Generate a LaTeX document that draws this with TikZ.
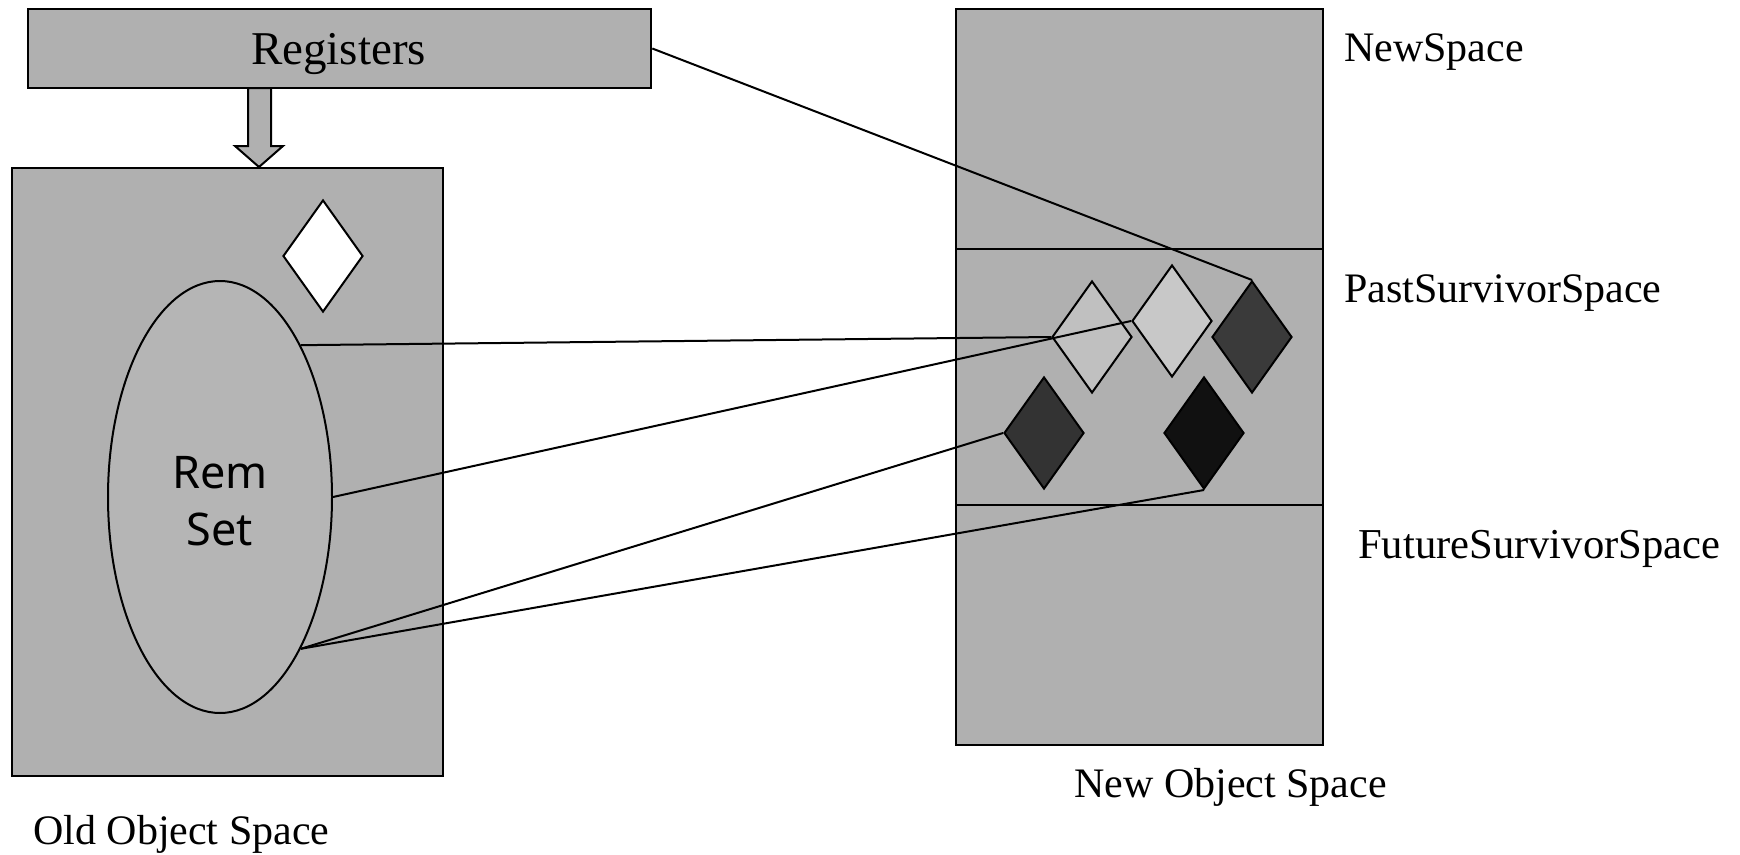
\documentclass[tikz,border=0pt]{standalone}
\usepackage{fontspec}
\setmainfont{Liberation Serif}
\newfontfamily\remfont{Noto Sans}
\usetikzlibrary{shapes.geometric}
\definecolor{bgray}{RGB}{176,176,176}
\definecolor{egray}{RGB}{181,181,181}
\definecolor{dlight}{RGB}{192,192,192}
\definecolor{dlighter}{RGB}{200,200,200}
\definecolor{ddark}{RGB}{58,58,58}
\definecolor{ddarker}{RGB}{51,51,51}
\definecolor{dblack}{RGB}{17,17,17}
\tikzset{
  boxsty/.style={draw, line width=2.6pt, fill=bgray, inner sep=0pt, rectangle},
  link/.style={line width=2pt},
  dia/.style={diamond, draw, line width=2pt, minimum width=80pt, minimum height=112pt, inner sep=0pt},
  lbl/.style={font=\fontsize{42}{50}\selectfont, inner sep=0pt, anchor=base west},
}
\begin{document}
\begin{tikzpicture}[x=1pt, y=-1pt]
\useasboundingbox[fill=white] (0,0) rectangle (1740,854);
% Registers
\node[boxsty, minimum width=623pt, minimum height=79pt] (reg) at (339.5,48.5) {};
\node[font=\fontsize{47}{56}\selectfont, inner sep=0pt, anchor=base] (regtext) at (338.5,64) {Registers};
% Arrow
\draw[line width=2pt, fill=bgray] (248,88) -- (271,88) -- (271,146) -- (283,146) -- (259,167) -- (235,146) -- (248,146) -- cycle;
% Old object space
\node[boxsty, minimum width=431pt, minimum height=608pt] (old) at (227.5,472) {};
\node[dia, fill=white] (wd) at (323,256) {};
\node[ellipse, draw, line width=2pt, fill=egray, minimum width=224pt, minimum height=432pt, inner sep=0pt, align=center, font=\remfont\fontsize{45}{57}\selectfont] (rs) at (220,497) {\rule{0pt}{40pt}Rem\\[0pt]Set};
% New object space
\node[boxsty, minimum width=367pt, minimum height=240pt] (newsp) at (1139.5,129) {};
\node[boxsty, minimum width=367pt, minimum height=256pt] (pastsp) at (1139.5,377) {};
\node[boxsty, minimum width=367pt, minimum height=240pt] (futsp) at (1139.5,625) {};
% Diamonds
\node[dia, fill=dlight] (d1) at (1092,337) {};
\node[dia, fill=dlighter] (d2) at (1172,321) {};
\node[dia, fill=ddark] (d3) at (1252,337) {};
\node[dia, fill=ddarker] (d4) at (1044,433) {};
\node[dia, fill=dblack] (d5) at (1204,433) {};
% Connectors
\draw[link] (reg.east) -- (d3.north);
\draw[link] (rs.62) -- (d1.west);
\draw[link] (rs.east) -- (d2.west);
\draw[link] (rs.-62) -- (d4.west);
\draw[link] (rs.-62) -- (d5.south);
% Labels
\node[lbl] (lnew) at (1344,61) {NewSpace};
\node[lbl] (lpast) at (1344,302) {PastSurvivorSpace};
\node[lbl, font=\fontsize{42.6}{50}\selectfont] (lfut) at (1358,558) {FutureSurvivorSpace};
\node[lbl, anchor=base] (lnos) at (1230.5,797) {New Object Space};
\node[lbl] (loos) at (33,844) {Old Object Space};
\end{tikzpicture}
\end{document}
